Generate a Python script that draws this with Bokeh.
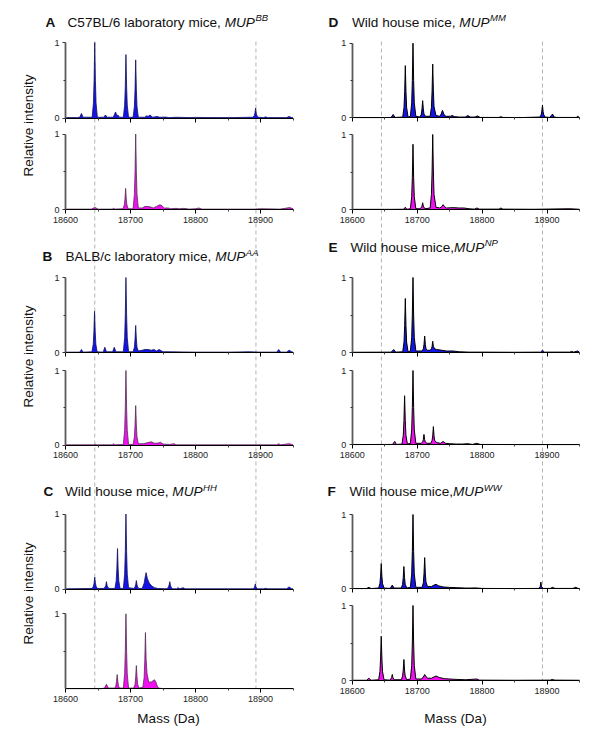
from bokeh.plotting import figure
from bokeh.models import Range1d, LinearAxis, FixedTicker
from bokeh.core.properties import value
from bokeh.embed import file_html
from bokeh.resources import INLINE

# ---------------- data (mass in Da, relative intensity) ----------------
A_top = [(18600,0.005),(18618,0.005),(18622,0.01),(18624.5,0.06),(18627,0.01),
 (18641,0.01),(18643,0.2),(18644,0.5),(18645,1.0),(18646,0.5),(18647,0.2),(18649,0.01),
 (18659,0.01),(18661.5,0.04),(18664,0.01),
 (18673.5,0.01),(18677,0.08),(18679,0.03),(18680.5,0.04),(18683,0.01),
 (18689,0.01),(18691,0.17),(18692,0.42),(18693,0.84),(18694,0.42),(18695,0.17),(18697,0.01),
 (18704,0.01),(18706,0.15),(18707,0.38),(18708,0.77),(18709,0.38),(18710,0.15),(18712,0.01),
 (18722,0.01),(18725,0.03),(18727,0.02),(18730,0.04),(18734,0.01),(18741,0.02),(18745,0.01),
 (18754,0.012),(18760,0.005),(18770,0.01),(18790,0.005),(18800,0.008),(18830,0.005),(18860,0.006),
 (18888,0.01),(18890.5,0.03),(18891.5,0.07),(18892.5,0.13),(18893.5,0.06),(18894.5,0.03),(18897,0.01),
 (18905,0.005),(18908,0.015),(18911,0.005),(18940,0.005),(18944,0.02),(18948,0.005),(18950,0.005)]
A_bot = [(18600,0.005),(18640,0.005),(18643,0.02),(18646,0.025),(18650,0.005),(18672,0.005),(18674,0.015),(18676,0.005),
 (18688.5,0.01),(18690.5,0.06),(18691.5,0.14),(18692.5,0.28),(18693.5,0.14),(18694.5,0.06),(18696.5,0.01),
 (18704,0.01),(18706,0.2),(18707,0.5),(18708,1.0),(18709,0.5),(18710,0.2),(18712,0.02),
 (18718,0.02),(18722,0.04),(18726,0.04),(18730,0.035),(18735,0.02),(18740,0.04),(18744,0.06),(18747,0.06),
 (18752,0.02),(18758,0.02),(18762,0.01),(18770,0.015),(18775,0.01),(18782,0.015),(18790,0.005),(18800,0.01),
 (18805,0.02),(18810,0.005),(18850,0.005),(18890,0.005),(18900,0.01),(18930,0.005),(18945,0.025),(18950,0.01)]
B_top = [(18600,0.005),(18622,0.005),(18624.5,0.04),(18627,0.005),
 (18640.7,0.01),(18642.7,0.11),(18643.7,0.28),(18644.7,0.55),(18645.7,0.28),(18646.7,0.11),(18648.7,0.01),
 (18658,0.005),(18660.5,0.07),(18663,0.01),(18672.5,0.01),(18675,0.07),(18677.5,0.01),
 (18689,0.01),(18691,0.2),(18692,0.5),(18693,1.0),(18694,0.5),(18695,0.2),(18697,0.01),
 (18704,0.01),(18706,0.07),(18707,0.18),(18708,0.36),(18709,0.18),(18710,0.07),(18712,0.02),
 (18718,0.03),(18722,0.04),(18727,0.04),(18732,0.03),(18736,0.04),(18740,0.02),(18744,0.04),(18750,0.01),
 (18760,0.01),(18800,0.005),(18850,0.005),(18883,0.01),(18900,0.005),(18925,0.005),(18928,0.04),(18931,0.005),
 (18940,0.005),(18944,0.03),(18948,0.01),(18950,0.005)]
B_bot = [(18600,0.005),(18644,0.005),(18646,0.012),(18648,0.005),(18672,0.005),(18674,0.02),(18676,0.005),
 (18689,0.01),(18691,0.2),(18692,0.5),(18693,1.0),(18694,0.5),(18695,0.2),(18697,0.01),
 (18704,0.01),(18706,0.11),(18707,0.27),(18708,0.53),(18709,0.27),(18710,0.11),(18712,0.02),
 (18720,0.02),(18727,0.035),(18732,0.045),(18737,0.025),(18743,0.03),(18746,0.04),(18750,0.015),(18760,0.01),
 (18767,0.02),(18770,0.005),(18800,0.005),(18860,0.005),(18925,0.005),(18928,0.02),(18931,0.005),(18944,0.02),(18950,0.005)]
C_top = [(18600,0.005),(18641,0.01),(18643,0.04),(18644,0.08),(18645,0.16),(18646,0.08),(18647,0.04),(18649,0.01),
 (18659,0.01),(18661,0.03),(18662,0.05),(18663,0.10),(18664,0.05),(18665,0.03),(18667,0.01),
 (18676,0.01),(18678,0.11),(18679,0.27),(18680,0.54),(18681,0.27),(18682,0.11),(18684,0.01),
 (18689,0.01),(18691,0.2),(18692,0.5),(18693,1.0),(18694,0.5),(18695,0.2),(18697,0.02),
 (18705,0.01),(18707,0.03),(18708,0.06),(18709,0.115),(18710,0.06),(18711,0.03),(18713,0.01),
 (18718,0.01),(18721,0.08),(18723,0.18),(18724,0.22),(18726,0.14),(18729,0.08),(18733,0.04),(18737,0.02),(18742,0.01),
 (18756,0.005),(18758.5,0.03),(18759.5,0.06),(18760.5,0.10),(18761.5,0.05),(18763,0.02),(18765,0.005),
 (18771,0.005),(18773,0.02),(18776,0.005),(18781,0.02),(18784,0.005),(18800,0.005),(18850,0.005),
 (18889,0.005),(18891,0.03),(18892,0.07),(18893,0.03),(18895,0.005),(18905,0.005),(18908,0.012),(18911,0.005),
 (18940,0.005),(18944,0.03),(18948,0.005),(18950,0.005)]
C_bot = [(18600,0.002),(18655,0.002),(18660,0.01),(18663,0.06),(18666,0.01),
 (18676,0.01),(18677.5,0.04),(18678.5,0.1),(18679.5,0.19),(18680.5,0.1),(18681.5,0.04),(18683,0.01),
 (18689,0.01),(18691,0.2),(18692,0.5),(18693,1.0),(18694,0.5),(18695,0.2),(18697,0.01),
 (18705,0.01),(18707,0.06),(18708,0.16),(18709,0.31),(18710,0.16),(18711,0.06),(18713,0.01),
 (18719,0.02),(18721,0.15),(18722,0.38),(18723,0.75),(18724,0.4),(18725.5,0.2),(18728,0.09),(18732,0.09),
 (18735,0.11),(18737,0.12),(18739,0.09),(18741,0.04),(18743,0.01),(18750,0.002),(18800,0.004),(18950,0.002)]
D_top = [(18600,0.003),(18645,0.003),(18660,0.005),(18663,0.045),(18666,0.005),
 (18677.8,0.01),(18679.8,0.14),(18680.8,0.35),(18681.8,0.70),(18682.8,0.35),(18683.8,0.14),(18686,0.01),
 (18689.6,0.02),(18691.6,0.2),(18692.6,0.5),(18693.6,1.0),(18694.6,0.5),(18695.6,0.2),(18698,0.02),
 (18704.5,0.01),(18706.5,0.05),(18707.5,0.12),(18708.5,0.23),(18709.5,0.12),(18710.5,0.05),(18713,0.02),
 (18720,0.02),(18722,0.14),(18723,0.36),(18724,0.72),(18725,0.36),(18726,0.15),(18729,0.03),
 (18735,0.02),(18737,0.05),(18739,0.10),(18741,0.05),(18744,0.02),(18751,0.02),(18754,0.03),(18758,0.015),
 (18765,0.01),(18774,0.01),(18778,0.03),(18782,0.01),(18789,0.01),(18793,0.025),(18797,0.005),(18815,0.005),
 (18826,0.005),(18829,0.015),(18832,0.005),(18860,0.003),
 (18889,0.01),(18891,0.04),(18892,0.09),(18893,0.17),(18894,0.08),(18895,0.04),(18897,0.01),
 (18904,0.005),(18906.5,0.03),(18908.5,0.05),(18911,0.01),(18915,0.005),(18930,0.005),(18945,0.005),(18947,0.02),(18950,0.005)]
D_bot = [(18600,0.002),(18660,0.002),(18679,0.003),(18681.8,0.03),(18684,0.003),
 (18689.6,0.01),(18691.6,0.17),(18692.6,0.43),(18693.6,0.87),(18694.6,0.43),(18695.6,0.17),(18698,0.01),
 (18705,0.01),(18707.5,0.045),(18708.5,0.09),(18709.5,0.045),(18712,0.01),
 (18720,0.02),(18722,0.2),(18723,0.5),(18724,1.0),(18725,0.5),(18726,0.2),(18729,0.03),
 (18735,0.02),(18738,0.04),(18740,0.065),(18742,0.04),(18745,0.02),(18755,0.025),(18765,0.02),(18772,0.02),
 (18780,0.01),(18788,0.005),(18792,0.02),(18796,0.005),(18826,0.005),(18829,0.02),(18832,0.005),(18880,0.003),
 (18935,0.01),(18950,0.003)]
E_top = [(18600,0.003),(18660,0.005),(18664,0.04),(18667,0.005),
 (18677.8,0.01),(18679.8,0.14),(18680.8,0.36),(18681.8,0.72),(18682.8,0.36),(18683.8,0.14),(18686,0.01),
 (18689.6,0.02),(18691.6,0.2),(18692.6,0.5),(18693.6,1.0),(18694.6,0.5),(18695.6,0.2),(18698,0.02),
 (18707.5,0.02),(18709.6,0.05),(18710.6,0.11),(18711.6,0.22),(18712.6,0.11),(18713.6,0.05),(18716,0.03),
 (18720,0.03),(18722,0.05),(18723,0.08),(18724,0.15),(18725,0.08),(18727,0.05),(18730,0.04),(18738,0.03),
 (18745,0.02),(18755,0.02),(18765,0.01),(18780,0.005),(18800,0.005),(18850,0.003),
 (18890,0.005),(18893,0.03),(18896,0.005),(18935,0.005),(18938,0.015),(18941,0.005),(18947,0.02),(18950,0.005)]
E_bot = [(18600,0.003),(18662,0.005),(18665.5,0.045),(18668,0.005),
 (18676.7,0.01),(18678.7,0.13),(18679.7,0.33),(18680.7,0.66),(18681.7,0.33),(18682.7,0.13),(18685,0.01),
 (18689.6,0.02),(18691.6,0.2),(18692.6,0.5),(18693.6,1.0),(18694.6,0.5),(18695.6,0.2),(18698,0.02),
 (18706.5,0.02),(18708.5,0.04),(18709.5,0.07),(18710.5,0.14),(18711.5,0.07),(18712.5,0.04),(18715,0.02),
 (18721,0.02),(18723,0.06),(18724,0.12),(18725,0.245),(18726,0.12),(18727,0.06),(18730,0.03),
 (18736,0.02),(18740,0.045),(18744,0.02),(18750,0.015),(18760,0.01),(18770,0.01),(18778,0.015),(18785,0.005),
 (18792,0.02),(18797,0.005),(18850,0.003),(18900,0.003),(18950,0.003)]
F_top = [(18600,0.003),(18622,0.003),(18625.7,0.02),(18629,0.003),
 (18640.7,0.01),(18642.7,0.07),(18643.7,0.17),(18644.7,0.34),(18645.7,0.17),(18646.7,0.07),(18649,0.01),
 (18658.5,0.005),(18661.7,0.05),(18664.5,0.01),
 (18675.6,0.01),(18677.6,0.06),(18678.6,0.15),(18679.6,0.30),(18680.6,0.15),(18681.6,0.06),(18684,0.01),
 (18689.6,0.02),(18691.6,0.2),(18692.6,0.5),(18693.6,1.0),(18694.6,0.5),(18695.6,0.2),(18698,0.02),
 (18707.6,0.02),(18709.6,0.08),(18710.6,0.21),(18711.6,0.42),(18712.6,0.21),(18713.6,0.09),(18716,0.03),
 (18722,0.03),(18726,0.05),(18729,0.06),(18733,0.04),(18740,0.025),(18748,0.02),(18760,0.015),(18775,0.01),
 (18780,0.01),(18790,0.012),(18800,0.005),(18850,0.003),
 (18887,0.005),(18889.5,0.03),(18890.5,0.09),(18891.5,0.03),(18894,0.005),(18905,0.005),(18908.6,0.02),
 (18912,0.005),(18940,0.005),(18944,0.02),(18948,0.005),(18950,0.003)]
F_bot = [(18600,0.003),(18622,0.003),(18625.7,0.03),(18629,0.003),
 (18640.7,0.01),(18642.7,0.12),(18643.7,0.3),(18644.7,0.59),(18645.7,0.3),(18646.7,0.12),(18649,0.01),
 (18658.5,0.005),(18660.7,0.04),(18661.7,0.08),(18662.7,0.04),(18664.5,0.01),
 (18675.6,0.01),(18677.6,0.06),(18678.6,0.14),(18679.6,0.28),(18680.6,0.14),(18681.6,0.06),(18684,0.01),
 (18689.6,0.02),(18691.6,0.2),(18692.6,0.5),(18693.6,1.0),(18694.6,0.5),(18695.6,0.2),(18698,0.02),
 (18707,0.02),(18710.5,0.06),(18711.6,0.08),(18713,0.06),(18716,0.03),(18722,0.03),(18729,0.06),(18734,0.04),
 (18742,0.025),(18750,0.02),(18760,0.015),(18775,0.01),(18792,0.02),(18796,0.005),(18850,0.003),(18905,0.005),
 (18908,0.015),(18912,0.005),(18950,0.003)]

x_ticks = [18600, 18700, 18800, 18900]
x_minor = [18650, 18750, 18850, 18950]
x_lo, x_hi = 18600, 18950
marker_masses = [18645, 18893]

panel_letters = ["A", "B", "C", "D", "E", "F"]
panel_text = ["C57BL/6 laboratory mice, ", "BALB/c laboratory mice, ", "Wild house mice, ",
              "Wild house mice, ", "Wild house mice,", "Wild house mice,"]
panel_sup = ["BB", "AA", "HH", "MM", "NP", "WW"]
y_label = "Relative intensity"
x_label = "Mass (Da)"

# ---------------- layout (picture pixel positions) ----------------
FONT = "Liberation Sans"
W, H = 584, 729
OX, OY = 0, 0
cols = {"L": (65, 292.5), "R": (351.7, 579)}
# name, column, pixel y of value 1, pixel y of value 0, kind, data, x labels?, y tick values
subplots = [
    ("A_top", "L", 42, 117.5, "top", A_top, False, [0, 1]),
    ("A_bot", "L", 133.5, 209, "bot", A_bot, True, [0, 1]),
    ("B_top", "L", 277, 352, "top", B_top, False, [0, 1]),
    ("B_bot", "L", 370, 444.7, "bot", B_bot, True, [0, 1]),
    ("C_top", "L", 513.5, 588.7, "top", C_top, False, [0, 1]),
    ("C_bot", "L", 613.3, 688.3, "bot", C_bot, True, [1]),
    ("D_top", "R", 42.7, 117.3, "top", D_top, False, [0, 1]),
    ("D_bot", "R", 134, 209, "bot", D_bot, True, [0, 1]),
    ("E_top", "R", 277, 352, "top", E_top, False, [0, 1]),
    ("E_bot", "R", 370, 444.3, "bot", E_bot, True, [0, 1]),
    ("F_top", "R", 514, 588.3, "top", F_top, False, [0, 1]),
    ("F_bot", "R", 605, 680, "bot", F_bot, True, [0, 1]),
]
title_pos = [(45, 67, 21.7), (42, 65, 256), (43, 64.5, 491),
             (328, 351.5, 21.7), (328, 350, 246.7), (327, 349, 491)]
ylabel_pos = [(27.5, 125), (27.5, 356), (27.5, 593)]
xlabel_pos = [(168, 717.7), (455, 717.7)]
dash_span = {"L": (41, 688.3), "R": (41, 680)}

p = figure(width=W, height=H, x_range=Range1d(OX, OX + W), y_range=Range1d(OY + H, OY),
           x_axis_location=None, y_axis_location=None, toolbar_location=None,
           output_backend="svg", min_border=0, outline_line_color=None)
p.grid.grid_line_color = None
p.background_fill_color = "white"
p.border_fill_color = "white"

xr = {}
for c, (xa, xb) in cols.items():
    k = (xb - xa) / (x_hi - x_lo)
    s = x_lo - (xa - OX) / k
    xr[c] = Range1d(s, s + W / k)
yr = {}
for name, c, y1px, y0px, kind, data, xl, yt in subplots:
    k = y0px - y1px
    s = -((OY + H) - y0px) / k
    yr[name] = Range1d(s, s + H / k)
p.extra_x_ranges = xr
p.extra_y_ranges = yr

# dashed reference lines
for c, (ya, yb) in dash_span.items():
    p.segment(x0=marker_masses, x1=marker_masses, y0=[ya] * 2, y1=[yb] * 2, x_range_name=c,
              line_color="#b4b4b4", line_width=1, line_dash="4 3")

for name, c, y1px, y0px, kind, data, xl, yt in subplots:
    xs = [d[0] for d in data]
    ys = [d[1] for d in data]
    right = c == "R"
    fill = "#1414e6" if kind == "top" else "#f010f0"
    if right:
        lc, lw = "black", 1.0
    else:
        lc, lw = ("#10105a" if kind == "top" else "#503050"), 0.8
    p.varea(x=xs, y1=0, y2=ys, fill_color=fill, x_range_name=c, y_range_name=name)
    p.line(x=xs, y=ys, line_color=lc, line_width=lw, x_range_name=c, y_range_name=name)

    xa = LinearAxis(x_range_name=c, y_range_name=name, fixed_location=0, bounds=(x_lo, x_hi),
                    ticker=FixedTicker(ticks=x_ticks, minor_ticks=x_minor))
    xa.axis_line_color = "black"
    xa.axis_line_width = 1
    xa.major_tick_in = 0
    xa.major_tick_out = 4
    xa.minor_tick_in = 0
    xa.minor_tick_out = 2
    xa.major_tick_line_color = "black"
    xa.minor_tick_line_color = "#444"
    xa.major_label_standoff = 3
    xa.major_label_text_font = FONT
    xa.major_label_text_font_size = "9px"
    xa.major_label_text_color = "#222" if xl else None
    p.add_layout(xa, "below")

    ya = LinearAxis(x_range_name=c, y_range_name=name, fixed_location=x_lo, bounds=(0, 1),
                    ticker=FixedTicker(ticks=yt, minor_ticks=[0.5]))
    ya.axis_line_color = "#5a5a5a"
    ya.axis_line_width = 1.8
    ya.major_tick_in = 0
    ya.major_tick_out = 3
    ya.minor_tick_in = 0
    ya.minor_tick_out = 2
    ya.major_tick_line_color = "#333"
    ya.minor_tick_line_color = "#333"
    ya.major_label_standoff = 3
    ya.major_label_text_font = FONT
    ya.major_label_text_font_size = "9px"
    ya.major_label_text_color = "#222"
    p.add_layout(ya, "left")

# text width helper (Arial/Helvetica metrics, per 1000 em)
CW = {' ': 278, 'A': 667, 'B': 667, 'C': 722, 'D': 722, 'E': 667, 'F': 611, 'H': 722, 'L': 556, 'M': 833,
      'N': 722, 'P': 667, 'U': 722, 'W': 944, 'a': 556, 'b': 556, 'c': 500, 'd': 556, 'e': 556, 'h': 556,
      'i': 222, 'l': 222, 'm': 833, 'n': 556, 'o': 556, 'r': 333, 's': 500, 't': 278, 'u': 556, 'w': 722,
      'y': 500, '/': 278, ',': 278, '5': 556, '6': 556, '7': 556}


def tw(s, size):
    return sum(CW.get(ch, 556) for ch in s) * size / 1000.0


def put(x, y, s, size, style="normal", align="left", angle=0.0, color="#111"):
    p.text(x=[x], y=[y], text=[s], text_font=value(FONT), text_font_size=value(f"{size}px"),
           text_font_style=value(style), text_align=align, text_baseline="middle", angle=angle,
           text_color=color)


TS = 13.6
for i, (lx, tx, ty) in enumerate(title_pos):
    put(lx, ty, panel_letters[i], TS, "bold")
    put(tx, ty, panel_text[i], TS)
    mx = tx + tw(panel_text[i], TS)
    put(mx, ty, "MUP", TS, "italic")
    put(mx + tw("MUP", TS) + 0.5, ty - 4.3, panel_sup[i], 9.5, "italic")

for (x, y) in ylabel_pos:
    put(x, y, y_label, 13.5, align="center", angle=1.5707963)
for (x, y) in xlabel_pos:
    put(x, y, x_label, 13.5, align="center")

open("out.html", "w").write(file_html(p, INLINE))
